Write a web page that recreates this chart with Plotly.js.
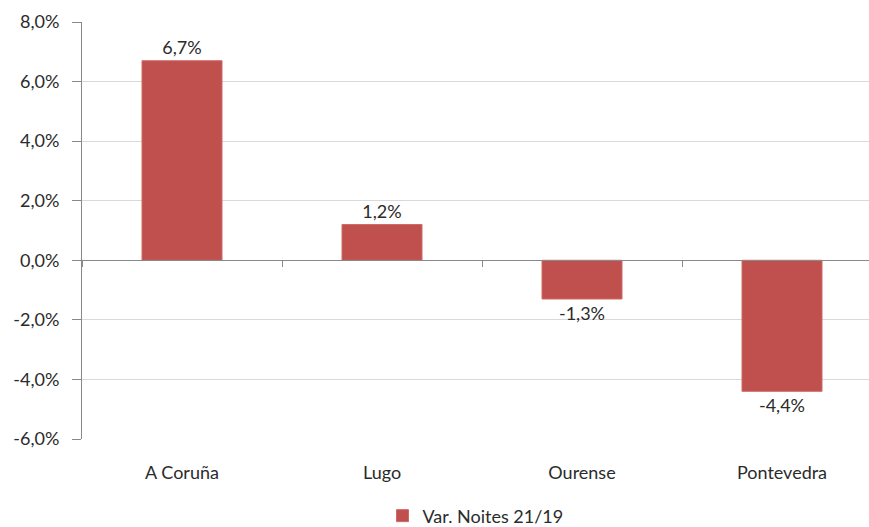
<!DOCTYPE html>
<html>
<head>
<meta charset="utf-8">
<script src="https://cdn.plot.ly/plotly-3.0.1.min.js"></script>
<style>html,body{margin:0;padding:0;background:#fff;}#chart{width:869px;height:527px;}</style>
</head>
<body>
<div id="chart"></div>
<script>
const categories = ["A Coruña", "Lugo", "Ourense", "Pontevedra"];
const seriesName = "Var. Noites 21/19";
const values = [0.067, 0.012, -0.013, -0.044];
const yTickVals = [-0.06, -0.04, -0.02, 0, 0.02, 0.04, 0.06, 0.08];
const yTickLabels = ["-6,0%", "-4,0%", "-2,0%", "0,0%", "2,0%", "4,0%", "6,0%", "8,0%"];

const font = {family: "Lato, 'Open Sans', sans-serif", size: 18, color: "#2b2b2b"};

const trace = {
  type: "bar",
  x: categories,
  y: values,
  name: seriesName,
  marker: {color: "#C0504D", line: {color: "#CD6A67", width: 1}},
  texttemplate: "%{y:.1%}",
  textposition: "outside",
  cliponaxis: false,
  textfont: font,
  hoverinfo: "skip",
  showlegend: true
};

const layout = {
  width: 869,
  height: 527,
  margin: {l: 82, r: 0, t: 22, b: 88, pad: 0, autoexpand: false},
  paper_bgcolor: "#fff",
  plot_bgcolor: "#fff",
  separators: ",.",
  font: font,
  bargap: 0.6,
  xaxis: {
    type: "category",
    range: [-0.5, 3.435],
    anchor: "free",
    position: 6 / 14,
    showline: true,
    linecolor: "#898989",
    linewidth: 1,
    ticks: "outside",
    tickson: "boundaries",
    ticklen: 6,
    tickcolor: "#898989",
    showgrid: false,
    ticklabelstandoff: 196,
    tickfont: font,
    zeroline: false
  },
  yaxis: {
    range: [-0.06, 0.08],
    tickvals: yTickVals,
    ticktext: yTickLabels,
    showgrid: true,
    gridcolor: "#D9D9D9",
    gridwidth: 1,
    zeroline: false,
    showline: true,
    linecolor: "#898989",
    ticks: "outside",
    ticklen: 9,
    tickcolor: "#898989",
    ticklabelstandoff: 9,
    tickfont: font,
    automargin: false
  },
  legend: {
    orientation: "h",
    x: 0.5,
    xanchor: "center",
    yref: "container",
    y: 0.021,
    yanchor: "middle",
    font: font,
    itemwidth: 30
  }
};

Plotly.newPlot("chart", [trace], layout, {displayModeBar: false, staticPlot: true});
</script>
</body>
</html>
